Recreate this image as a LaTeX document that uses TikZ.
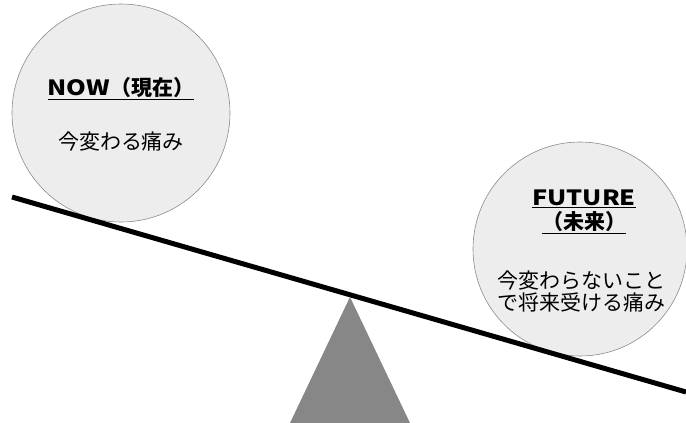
\documentclass[tikz,border=0pt]{standalone}
\usepackage{fontspec}
\setmainfont{Noto Sans CJK JP}
\newcommand{\wideLat}[1]{\scalebox{1.2}[1]{#1}}
\begin{document}
\begin{tikzpicture}[x=1pt,y=-1pt,
  pan/.style={circle,draw=black!45,fill=black!7,line width=0.6pt,minimum size=#1},
  title/.style={font=\fontsize{21}{27}\selectfont\bfseries,align=center},
  body/.style={font=\fontsize{21}{22}\selectfont,align=center}]
\useasboundingbox (0,0) rectangle (686,423);
\node[pan=218pt] (now) at (121,113) {};
\node[pan=214pt] (future) at (580,249) {};
\node[title] (nowt) at (121,89) {\underline{\wideLat{NOW}（現在）}};
\node[body] (nowb) at (121,142) {今変わる痛み};
\node[title] (futt) at (584,212) {\underline{\wideLat{FUTURE}}\\[-3pt]\underline{（未来）}};
\node[body] (futb) at (581,291) {今変わらないこと\\で将来受ける痛み};
\coordinate (apex) at (350,297);
\coordinate (bl) at (290,423);
\coordinate (br) at (410,423);
\fill[black!47] (apex) -- (bl) -- (br) -- cycle;
\coordinate (beamL) at (12,197);
\coordinate (beamR) at (686,392);
\draw[line width=5pt] (beamL) -- (beamR);
\end{tikzpicture}
\end{document}
